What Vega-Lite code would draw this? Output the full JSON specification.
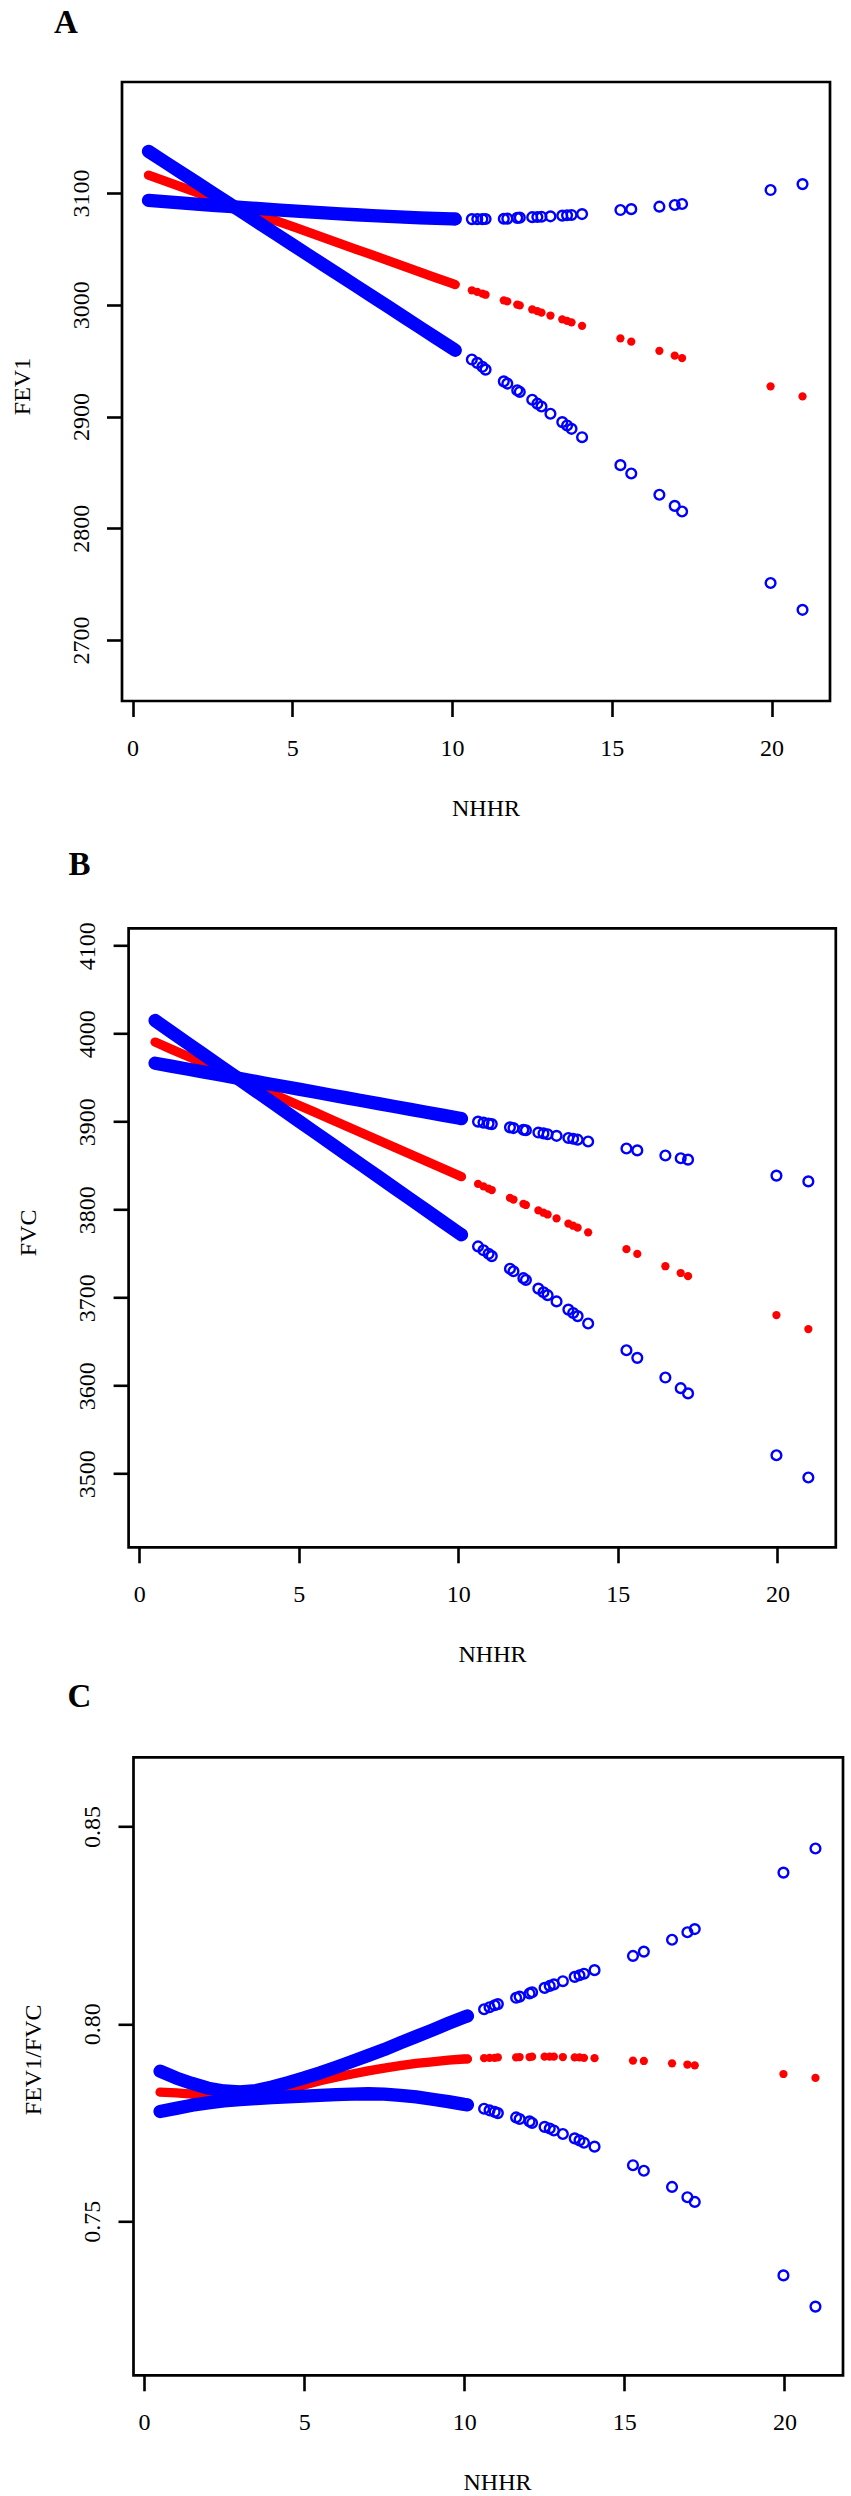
{
  "$schema": "https://vega.github.io/schema/vega-lite/v6.json",
  "background": "white",
  "padding": {"left": 10, "top": 7, "right": 2, "bottom": 0},
  "bounds": "flush",
  "spacing": 227.3,
  "config": {
    "font": "Liberation Serif",
    "view": {"stroke": null},
    "axis": {
      "domain": false, "grid": false, "ticks": true,
      "tickColor": "black", "tickWidth": 2.6, "tickSize": 15.5,
      "labelColor": "black", "labelFont": "Liberation Serif", "labelFontSize": 24,
      "labelFlush": false, "labelOverlap": false,
      "titleColor": "black", "titleFont": "Liberation Serif", "titleFontSize": 24, "titleFontWeight": "normal"
    },
    "axisX": {"labelAngle": 0, "labelPadding": 38.8, "labelBaseline": "alphabetic", "titleY": 114.5, "titleBaseline": "alphabetic", "titleAlign": "center"},
    "axisY": {"labelAngle": -90, "labelAlign": "center", "labelBaseline": "alphabetic", "labelPadding": 18.5,
              "titleAngle": -90, "titleAlign": "center", "titleBaseline": "alphabetic", "titleX": -93, "titleY": 304},
    "title": {"font": "Liberation Serif", "fontSize": 33, "fontWeight": "bold", "color": "black", "anchor": "start", "frame": "group", "baseline": "alphabetic"}
  },
  "datasets": {
    "nhhr": [
      {"NHHR": 0.5, "FEV1_fit": 3116.0, "FEV1_lower": 3137.3, "FEV1_upper": 3093.5, "FVC_fit": 3990.5, "FVC_lower": 4015.0, "FVC_upper": 3966.5, "ratio_fit": 0.7827, "ratio_lower": 0.7778, "ratio_upper": 0.7880},
      {"NHHR": 1.0, "FEV1_fit": 3110.9, "FEV1_lower": 3128.0, "FEV1_upper": 3092.3, "FVC_fit": 3982.5, "FVC_lower": 4002.3, "FVC_upper": 3963.2, "ratio_fit": 0.7825, "ratio_lower": 0.7786, "ratio_upper": 0.7863},
      {"NHHR": 1.5, "FEV1_fit": 3105.8, "FEV1_lower": 3118.8, "FEV1_upper": 3091.2, "FVC_fit": 3974.6, "FVC_lower": 3989.6, "FVC_upper": 3959.9, "ratio_fit": 0.7822, "ratio_lower": 0.7794, "ratio_upper": 0.7849},
      {"NHHR": 2.0, "FEV1_fit": 3100.7, "FEV1_lower": 3109.5, "FEV1_upper": 3090.1, "FVC_fit": 3966.6, "FVC_lower": 3977.0, "FVC_upper": 3956.7, "ratio_fit": 0.7819, "ratio_lower": 0.7800, "ratio_upper": 0.7837},
      {"NHHR": 2.5, "FEV1_fit": 3095.6, "FEV1_lower": 3100.2, "FEV1_upper": 3089.0, "FVC_fit": 3958.6, "FVC_lower": 3964.3, "FVC_upper": 3953.4, "ratio_fit": 0.7817, "ratio_lower": 0.7805, "ratio_upper": 0.7830},
      {"NHHR": 3.0, "FEV1_fit": 3090.5, "FEV1_lower": 3091.0, "FEV1_upper": 3088.0, "FVC_fit": 3950.7, "FVC_lower": 3951.6, "FVC_upper": 3950.1, "ratio_fit": 0.7818, "ratio_lower": 0.7808, "ratio_upper": 0.7828},
      {"NHHR": 3.5, "FEV1_fit": 3085.4, "FEV1_lower": 3081.7, "FEV1_upper": 3087.0, "FVC_fit": 3942.7, "FVC_lower": 3938.9, "FVC_upper": 3946.8, "ratio_fit": 0.7821, "ratio_lower": 0.7811, "ratio_upper": 0.7831},
      {"NHHR": 4.0, "FEV1_fit": 3080.3, "FEV1_lower": 3072.4, "FEV1_upper": 3086.0, "FVC_fit": 3934.7, "FVC_lower": 3926.2, "FVC_upper": 3943.5, "ratio_fit": 0.7827, "ratio_lower": 0.7813, "ratio_upper": 0.7840},
      {"NHHR": 4.5, "FEV1_fit": 3075.2, "FEV1_lower": 3063.1, "FEV1_upper": 3085.0, "FVC_fit": 3926.8, "FVC_lower": 3913.5, "FVC_upper": 3940.3, "ratio_fit": 0.7835, "ratio_lower": 0.7815, "ratio_upper": 0.7851},
      {"NHHR": 5.0, "FEV1_fit": 3070.1, "FEV1_lower": 3053.9, "FEV1_upper": 3084.1, "FVC_fit": 3918.8, "FVC_lower": 3900.8, "FVC_upper": 3937.0, "ratio_fit": 0.7845, "ratio_lower": 0.7817, "ratio_upper": 0.7863},
      {"NHHR": 5.5, "FEV1_fit": 3065.0, "FEV1_lower": 3044.6, "FEV1_upper": 3083.2, "FVC_fit": 3910.9, "FVC_lower": 3888.2, "FVC_upper": 3933.7, "ratio_fit": 0.7856, "ratio_lower": 0.7819, "ratio_upper": 0.7876},
      {"NHHR": 6.0, "FEV1_fit": 3059.9, "FEV1_lower": 3035.3, "FEV1_upper": 3082.3, "FVC_fit": 3902.9, "FVC_lower": 3875.5, "FVC_upper": 3930.4, "ratio_fit": 0.7865, "ratio_lower": 0.7821, "ratio_upper": 0.7890},
      {"NHHR": 6.5, "FEV1_fit": 3054.8, "FEV1_lower": 3026.1, "FEV1_upper": 3081.4, "FVC_fit": 3894.9, "FVC_lower": 3862.8, "FVC_upper": 3927.1, "ratio_fit": 0.7873, "ratio_lower": 0.7822, "ratio_upper": 0.7905},
      {"NHHR": 7.0, "FEV1_fit": 3049.7, "FEV1_lower": 3016.8, "FEV1_upper": 3080.6, "FVC_fit": 3887.0, "FVC_lower": 3850.1, "FVC_upper": 3923.9, "ratio_fit": 0.7881, "ratio_lower": 0.7823, "ratio_upper": 0.7920},
      {"NHHR": 7.5, "FEV1_fit": 3044.6, "FEV1_lower": 3007.5, "FEV1_upper": 3079.8, "FVC_fit": 3879.0, "FVC_lower": 3837.4, "FVC_upper": 3920.6, "ratio_fit": 0.7888, "ratio_lower": 0.7822, "ratio_upper": 0.7935},
      {"NHHR": 8.0, "FEV1_fit": 3039.5, "FEV1_lower": 2998.3, "FEV1_upper": 3079.1, "FVC_fit": 3871.0, "FVC_lower": 3824.7, "FVC_upper": 3917.3, "ratio_fit": 0.7894, "ratio_lower": 0.7819, "ratio_upper": 0.7952},
      {"NHHR": 8.5, "FEV1_fit": 3034.4, "FEV1_lower": 2989.0, "FEV1_upper": 3078.4, "FVC_fit": 3863.1, "FVC_lower": 3812.0, "FVC_upper": 3914.0, "ratio_fit": 0.7900, "ratio_lower": 0.7815, "ratio_upper": 0.7968},
      {"NHHR": 9.0, "FEV1_fit": 3029.3, "FEV1_lower": 2979.7, "FEV1_upper": 3077.8, "FVC_fit": 3855.1, "FVC_lower": 3799.4, "FVC_upper": 3910.7, "ratio_fit": 0.7904, "ratio_lower": 0.7809, "ratio_upper": 0.7984},
      {"NHHR": 9.5, "FEV1_fit": 3024.2, "FEV1_lower": 2970.4, "FEV1_upper": 3077.3, "FVC_fit": 3847.1, "FVC_lower": 3786.7, "FVC_upper": 3907.5, "ratio_fit": 0.7908, "ratio_lower": 0.7803, "ratio_upper": 0.8001},
      {"NHHR": 10.0, "FEV1_fit": 3019.1, "FEV1_lower": 2961.2, "FEV1_upper": 3076.9, "FVC_fit": 3839.2, "FVC_lower": 3774.0, "FVC_upper": 3904.2, "ratio_fit": 0.7911, "ratio_lower": 0.7796, "ratio_upper": 0.8017},
      {"NHHR": 10.1, "FEV1_fit": 3018.1, "FEV1_lower": 2959.3, "FEV1_upper": 3076.8, "FVC_fit": 3837.6, "FVC_lower": 3771.5, "FVC_upper": 3903.5, "ratio_fit": 0.7911, "ratio_lower": 0.7795, "ratio_upper": 0.8020},
      {"NHHR": 10.62, "FEV1_fit": 3013.0, "FEV1_lower": 2951.0, "FEV1_upper": 3076.7, "FVC_fit": 3829.3, "FVC_lower": 3758.3, "FVC_upper": 3900.1, "ratio_fit": 0.7913, "ratio_lower": 0.7785, "ratio_upper": 0.8037},
      {"NHHR": 10.79, "FEV1_fit": 3011.5, "FEV1_lower": 2948.0, "FEV1_upper": 3076.7, "FVC_fit": 3826.6, "FVC_lower": 3753.9, "FVC_upper": 3899.0, "ratio_fit": 0.7914, "ratio_lower": 0.7781, "ratio_upper": 0.8042},
      {"NHHR": 10.95, "FEV1_fit": 3010.0, "FEV1_lower": 2944.5, "FEV1_upper": 3076.7, "FVC_fit": 3824.0, "FVC_lower": 3749.9, "FVC_upper": 3897.9, "ratio_fit": 0.7914, "ratio_lower": 0.7777, "ratio_upper": 0.8047},
      {"NHHR": 11.05, "FEV1_fit": 3009.0, "FEV1_lower": 2942.0, "FEV1_upper": 3076.8, "FVC_fit": 3822.4, "FVC_lower": 3747.3, "FVC_upper": 3897.3, "ratio_fit": 0.7915, "ratio_lower": 0.7774, "ratio_upper": 0.8050},
      {"NHHR": 11.62, "FEV1_fit": 3004.0, "FEV1_lower": 2931.5, "FEV1_upper": 3077.0, "FVC_fit": 3813.4, "FVC_lower": 3732.9, "FVC_upper": 3893.6, "ratio_fit": 0.7915, "ratio_lower": 0.7763, "ratio_upper": 0.8066},
      {"NHHR": 11.73, "FEV1_fit": 3003.0, "FEV1_lower": 2929.5, "FEV1_upper": 3077.1, "FVC_fit": 3811.6, "FVC_lower": 3730.1, "FVC_upper": 3892.8, "ratio_fit": 0.7916, "ratio_lower": 0.7759, "ratio_upper": 0.8069},
      {"NHHR": 12.04, "FEV1_fit": 3000.2, "FEV1_lower": 2923.5, "FEV1_upper": 3077.8, "FVC_fit": 3806.7, "FVC_lower": 3722.2, "FVC_upper": 3890.8, "ratio_fit": 0.7916, "ratio_lower": 0.7753, "ratio_upper": 0.8077},
      {"NHHR": 12.12, "FEV1_fit": 2999.5, "FEV1_lower": 2922.0, "FEV1_upper": 3078.0, "FVC_fit": 3805.4, "FVC_lower": 3720.2, "FVC_upper": 3890.3, "ratio_fit": 0.7917, "ratio_lower": 0.7749, "ratio_upper": 0.8080},
      {"NHHR": 12.51, "FEV1_fit": 2995.8, "FEV1_lower": 2915.0, "FEV1_upper": 3078.4, "FVC_fit": 3799.2, "FVC_lower": 3710.3, "FVC_upper": 3887.7, "ratio_fit": 0.7917, "ratio_lower": 0.7739, "ratio_upper": 0.8091},
      {"NHHR": 12.67, "FEV1_fit": 2994.3, "FEV1_lower": 2911.5, "FEV1_upper": 3078.6, "FVC_fit": 3796.6, "FVC_lower": 3706.2, "FVC_upper": 3886.7, "ratio_fit": 0.7917, "ratio_lower": 0.7735, "ratio_upper": 0.8096},
      {"NHHR": 12.8, "FEV1_fit": 2993.0, "FEV1_lower": 2909.0, "FEV1_upper": 3078.8, "FVC_fit": 3794.6, "FVC_lower": 3702.9, "FVC_upper": 3885.8, "ratio_fit": 0.7917, "ratio_lower": 0.7730, "ratio_upper": 0.8100},
      {"NHHR": 13.08, "FEV1_fit": 2990.4, "FEV1_lower": 2902.5, "FEV1_upper": 3079.2, "FVC_fit": 3790.1, "FVC_lower": 3695.8, "FVC_upper": 3884.0, "ratio_fit": 0.7916, "ratio_lower": 0.7721, "ratio_upper": 0.8108},
      {"NHHR": 13.45, "FEV1_fit": 2987.0, "FEV1_lower": 2895.0, "FEV1_upper": 3079.8, "FVC_fit": 3784.2, "FVC_lower": 3686.5, "FVC_upper": 3881.5, "ratio_fit": 0.7915, "ratio_lower": 0.7710, "ratio_upper": 0.8119},
      {"NHHR": 13.6, "FEV1_fit": 2985.6, "FEV1_lower": 2892.0, "FEV1_upper": 3080.1, "FVC_fit": 3781.8, "FVC_lower": 3682.7, "FVC_upper": 3880.6, "ratio_fit": 0.7915, "ratio_lower": 0.7705, "ratio_upper": 0.8123},
      {"NHHR": 13.74, "FEV1_fit": 2984.3, "FEV1_lower": 2889.0, "FEV1_upper": 3080.4, "FVC_fit": 3779.6, "FVC_lower": 3679.1, "FVC_upper": 3879.6, "ratio_fit": 0.7914, "ratio_lower": 0.7699, "ratio_upper": 0.8127},
      {"NHHR": 14.07, "FEV1_fit": 2981.2, "FEV1_lower": 2881.5, "FEV1_upper": 3081.2, "FVC_fit": 3774.3, "FVC_lower": 3670.7, "FVC_upper": 3877.5, "ratio_fit": 0.7913, "ratio_lower": 0.7689, "ratio_upper": 0.8136},
      {"NHHR": 15.27, "FEV1_fit": 2970.0, "FEV1_lower": 2856.5, "FEV1_upper": 3084.8, "FVC_fit": 3755.2, "FVC_lower": 3640.3, "FVC_upper": 3869.6, "ratio_fit": 0.7907, "ratio_lower": 0.7642, "ratio_upper": 0.8172},
      {"NHHR": 15.61, "FEV1_fit": 2967.0, "FEV1_lower": 2849.0, "FEV1_upper": 3085.6, "FVC_fit": 3749.8, "FVC_lower": 3631.7, "FVC_upper": 3867.4, "ratio_fit": 0.7906, "ratio_lower": 0.7628, "ratio_upper": 0.8183},
      {"NHHR": 16.49, "FEV1_fit": 2958.8, "FEV1_lower": 2830.0, "FEV1_upper": 3087.8, "FVC_fit": 3735.8, "FVC_lower": 3609.3, "FVC_upper": 3861.6, "ratio_fit": 0.7900, "ratio_lower": 0.7587, "ratio_upper": 0.8213},
      {"NHHR": 16.97, "FEV1_fit": 2954.5, "FEV1_lower": 2820.0, "FEV1_upper": 3089.3, "FVC_fit": 3728.1, "FVC_lower": 3597.2, "FVC_upper": 3858.5, "ratio_fit": 0.7897, "ratio_lower": 0.7561, "ratio_upper": 0.8232},
      {"NHHR": 17.2, "FEV1_fit": 2952.3, "FEV1_lower": 2815.0, "FEV1_upper": 3090.2, "FVC_fit": 3724.5, "FVC_lower": 3591.3, "FVC_upper": 3856.9, "ratio_fit": 0.7895, "ratio_lower": 0.7549, "ratio_upper": 0.8240},
      {"NHHR": 19.97, "FEV1_fit": 2927.0, "FEV1_lower": 2751.0, "FEV1_upper": 3102.7, "FVC_fit": 3680.3, "FVC_lower": 3521.0, "FVC_upper": 3838.8, "ratio_fit": 0.7873, "ratio_lower": 0.7363, "ratio_upper": 0.8383},
      {"NHHR": 20.97, "FEV1_fit": 2918.0, "FEV1_lower": 2727.0, "FEV1_upper": 3108.0, "FVC_fit": 3664.4, "FVC_lower": 3495.7, "FVC_upper": 3832.2, "ratio_fit": 0.7863, "ratio_lower": 0.7284, "ratio_upper": 0.8444}
    ]
  },
  "vconcat": [
    {
      "width": 722, "height": 619,
      "title": {"text": "A", "dx": -68, "offset": 40.4},
      "encoding": {
        "x": {"field": "NHHR", "type": "quantitative", "title": "NHHR",
              "scale": {"domain": [-0.33, 21.83], "range": [0, 708], "nice": false, "zero": false},
              "axis": {"values": [0, 5, 10, 15, 20], "titleX": 363.5}},
        "y": {"field": "value", "type": "quantitative", "title": "FEV1",
              "scale": {"domain": [2645.4, 3199.4], "nice": false, "zero": false},
              "axis": {"values": [2700, 2800, 2900, 3000, 3100], "format": "d", "offset": 0}}
      },
      "layer": [
        {"data": {"values": [{"x0": -0.33, "x1": 21.83, "y0": 2645.4, "y1": 3199.4}]},
         "mark": {"type": "rect", "fillOpacity": 0, "stroke": "black", "strokeOpacity": 1, "strokeWidth": 2.7, "opacity": 1},
         "encoding": {"x": {"field": "x0", "type": "quantitative", "title": "NHHR"}, "x2": {"field": "x1"},
                      "y": {"field": "y0", "type": "quantitative", "title": "FEV1"}, "y2": {"field": "y1"}}},
        {"data": {"name": "nhhr"}, "transform": [{"filter": "datum.NHHR <= 10.15"}, {"fold": ["FEV1_fit"], "as": ["series", "value"]}],
         "mark": {"type": "line", "color": "#FF0000", "strokeWidth": 9.3, "strokeCap": "round", "strokeJoin": "round"}},
        {"data": {"name": "nhhr"}, "transform": [{"fold": ["FEV1_fit"], "as": ["series", "value"]}],
         "mark": {"type": "circle", "color": "#FF0000", "size": 68, "opacity": 1}},
        {"data": {"name": "nhhr"}, "transform": [{"filter": "datum.NHHR <= 10.15"}, {"fold": ["FEV1_lower", "FEV1_upper"], "as": ["series", "value"]}],
         "mark": {"type": "line", "color": "#0000FF", "strokeWidth": 13.3, "strokeCap": "round", "strokeJoin": "round"},
         "encoding": {"detail": {"field": "series"}}},
        {"data": {"name": "nhhr"}, "transform": [{"fold": ["FEV1_lower", "FEV1_upper"], "as": ["series", "value"]}],
         "mark": {"type": "point", "shape": "circle", "filled": false, "color": "#0000FF", "size": 95, "strokeWidth": 2.4, "opacity": 1}}
      ]
    },
    {
      "bounds": "flush",
      "spacing": 210,
      "vconcat": [
        {
          "width": 722, "height": 619,
          "title": {"text": "B", "dx": -53.5, "offset": 39.9},
          "encoding": {
            "x": {"field": "NHHR", "type": "quantitative", "title": "NHHR",
                  "scale": {"domain": [-0.33, 21.83], "range": [6.6, 713.8], "nice": false, "zero": false},
                  "axis": {"values": [0, 5, 10, 15, 20], "titleX": 370}},
            "y": {"field": "value", "type": "quantitative", "title": "FVC",
                  "scale": {"domain": [3416.4, 4119.8], "nice": false, "zero": false},
                  "axis": {"values": [3500, 3600, 3700, 3800, 3900, 4000, 4100], "format": "d", "offset": -6.6}}
          },
          "layer": [
            {"data": {"values": [{"x0": -0.33, "x1": 21.83, "y0": 3416.4, "y1": 4119.8}]},
             "mark": {"type": "rect", "fillOpacity": 0, "stroke": "black", "strokeOpacity": 1, "strokeWidth": 2.7, "opacity": 1},
             "encoding": {"x": {"field": "x0", "type": "quantitative", "title": "NHHR"}, "x2": {"field": "x1"},
                          "y": {"field": "y0", "type": "quantitative", "title": "FVC"}, "y2": {"field": "y1"}}},
            {"data": {"name": "nhhr"}, "transform": [{"filter": "datum.NHHR <= 10.15"}, {"fold": ["FVC_fit"], "as": ["series", "value"]}],
             "mark": {"type": "line", "color": "#FF0000", "strokeWidth": 9.3, "strokeCap": "round", "strokeJoin": "round"}},
            {"data": {"name": "nhhr"}, "transform": [{"fold": ["FVC_fit"], "as": ["series", "value"]}],
             "mark": {"type": "circle", "color": "#FF0000", "size": 68, "opacity": 1}},
            {"data": {"name": "nhhr"}, "transform": [{"filter": "datum.NHHR <= 10.15"}, {"fold": ["FVC_lower", "FVC_upper"], "as": ["series", "value"]}],
             "mark": {"type": "line", "color": "#0000FF", "strokeWidth": 13.3, "strokeCap": "round", "strokeJoin": "round"},
             "encoding": {"detail": {"field": "series"}}},
            {"data": {"name": "nhhr"}, "transform": [{"fold": ["FVC_lower", "FVC_upper"], "as": ["series", "value"]}],
             "mark": {"type": "point", "shape": "circle", "filled": false, "color": "#0000FF", "size": 95, "strokeWidth": 2.4, "opacity": 1}}
          ]
        },
        {
          "width": 722, "height": 618,
          "title": {"text": "C", "dx": -54.5, "offset": 41.7},
          "encoding": {
            "x": {"field": "NHHR", "type": "quantitative", "title": "NHHR",
                  "scale": {"domain": [-0.33, 21.83], "range": [11.5, 721], "nice": false, "zero": false},
                  "axis": {"values": [0, 5, 10, 15, 20], "titleX": 375}},
            "y": {"field": "value", "type": "quantitative", "title": "FEV1/FVC",
                  "scale": {"domain": [0.711, 0.8675], "nice": false, "zero": false},
                  "axis": {"values": [0.75, 0.8, 0.85], "format": ".2f", "offset": -11.5, "titleY": 302}}
          },
          "layer": [
            {"data": {"values": [{"x0": -0.33, "x1": 21.83, "y0": 0.711, "y1": 0.8675}]},
             "mark": {"type": "rect", "fillOpacity": 0, "stroke": "black", "strokeOpacity": 1, "strokeWidth": 2.7, "opacity": 1},
             "encoding": {"x": {"field": "x0", "type": "quantitative", "title": "NHHR"}, "x2": {"field": "x1"},
                          "y": {"field": "y0", "type": "quantitative", "title": "FEV1/FVC"}, "y2": {"field": "y1"}}},
            {"data": {"name": "nhhr"}, "transform": [{"filter": "datum.NHHR <= 10.15"}, {"fold": ["ratio_fit"], "as": ["series", "value"]}],
             "mark": {"type": "line", "color": "#FF0000", "strokeWidth": 9.3, "strokeCap": "round", "strokeJoin": "round"}},
            {"data": {"name": "nhhr"}, "transform": [{"fold": ["ratio_fit"], "as": ["series", "value"]}],
             "mark": {"type": "circle", "color": "#FF0000", "size": 68, "opacity": 1}},
            {"data": {"name": "nhhr"}, "transform": [{"filter": "datum.NHHR <= 10.15"}, {"fold": ["ratio_lower", "ratio_upper"], "as": ["series", "value"]}],
             "mark": {"type": "line", "color": "#0000FF", "strokeWidth": 13.3, "strokeCap": "round", "strokeJoin": "round"},
             "encoding": {"detail": {"field": "series"}}},
            {"data": {"name": "nhhr"}, "transform": [{"fold": ["ratio_lower", "ratio_upper"], "as": ["series", "value"]}],
             "mark": {"type": "point", "shape": "circle", "filled": false, "color": "#0000FF", "size": 95, "strokeWidth": 2.4, "opacity": 1}}
          ]
        }
      ]
    }
  ]
}
